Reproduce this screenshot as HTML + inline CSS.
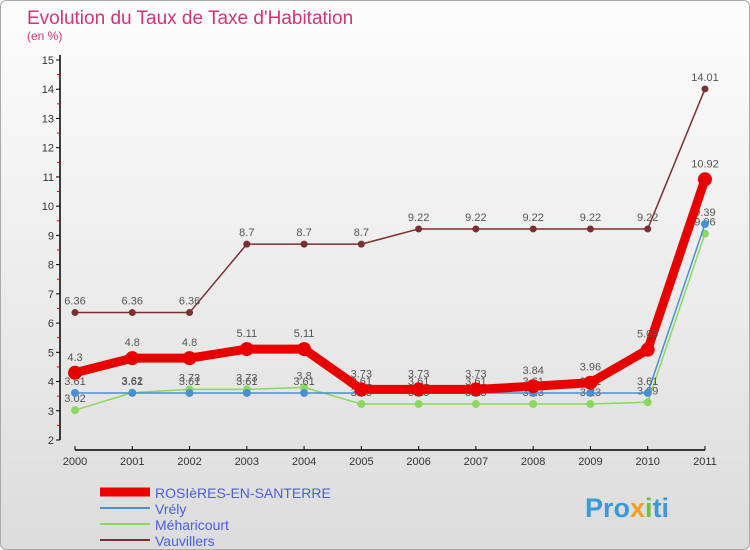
<!DOCTYPE html>
<html><head><meta charset="utf-8"><style>
body{margin:0;width:750px;height:550px;overflow:hidden;font-family:"Liberation Sans",sans-serif}
#wrap{position:absolute;left:0;top:0;width:748px;height:548px;border:1px solid #aaa;border-radius:6px;background:linear-gradient(#fdfdfd,#dcdcdc);}
</style></head><body>
<div id="wrap"></div>
<svg id="c" width="750" height="550" style="position:absolute;left:0;top:0">
<text x="27" y="24" font-size="19" fill="#d0357a">Evolution du Taux de Taxe d'Habitation</text>
<text x="27" y="40" font-size="12" fill="#d0357a">(en %)</text>
<g id="axes"></g><g id="series"></g>
<g>
<line x1="100" y1="492" x2="150" y2="492" stroke="#e00" stroke-width="9"/>
<text x="155" y="498" font-size="14" fill="#4a5fd8">ROSIèRES-EN-SANTERRE</text>
<line x1="100" y1="508" x2="150" y2="508" stroke="#4a8fd0" stroke-width="2"/>
<text x="155" y="514" font-size="14" fill="#4a5fd8">Vrély</text>
<line x1="100" y1="524" x2="150" y2="524" stroke="#8ad860" stroke-width="2"/>
<text x="155" y="530" font-size="14" fill="#4a5fd8">Méharicourt</text>
<line x1="100" y1="540" x2="150" y2="540" stroke="#7a3030" stroke-width="2"/>
<text x="155" y="546" font-size="14" fill="#4a5fd8">Vauvillers</text>
</g>
<text x="585" y="517" font-size="27" font-weight="bold" fill="#3a9ad8">Pro<tspan fill="#f0a020">x</tspan><tspan fill="#70c040">i</tspan>ti</text>
</svg>
<script>
const years=[2000,2001,2002,2003,2004,2005,2006,2007,2008,2009,2010,2011];
const yTicks=[2,3,4,5,6,7,8,9,10,11,12,13,14,15];
const vauvillers=[6.36,6.36,6.36,8.7,8.7,8.7,9.22,9.22,9.22,9.22,9.22,14.01];
const meharicourt=[3.02,3.62,3.73,3.73,3.8,3.23,3.23,3.23,3.23,3.23,3.29,9.06];
const vrely=[3.61,3.61,3.61,3.61,3.61,3.61,3.61,3.61,3.61,3.61,3.61,9.39];
const rosieres=[4.3,4.8,4.8,5.11,5.11,3.73,3.73,3.73,3.84,3.96,5.09,10.92];
const NS="http://www.w3.org/2000/svg";
const X=i=>75+i*57.27, Y=v=>440-(v-2)*29.23;
function mk(p,t,a){const e=document.createElementNS(NS,t);for(const k in a)e.setAttribute(k,a[k]);p.appendChild(e);return e;}
const ax=document.getElementById('axes'), sg=document.getElementById('series');
let l=mk(ax,'line',{x1:60,y1:55,x2:60,y2:440,stroke:'#000','stroke-width':1.5});


l=mk(ax,'line',{x1:75,y1:450,x2:705,y2:450,stroke:'#000','stroke-width':1.5});


yTicks.forEach(v=>{mk(ax,'line',{x1:56,y1:Y(v),x2:60,y2:Y(v),stroke:'#000'});
 if(v<15)mk(ax,'line',{x1:57,y1:Y(v+0.5),x2:60,y2:Y(v+0.5),stroke:'#e00'});
 const t=mk(ax,'text',{x:54,y:Y(v)+4,'font-size':11,'text-anchor':'end',fill:'#333'});t.textContent=v;
 
 });
years.forEach((y,i)=>{mk(ax,'line',{x1:X(i),y1:446,x2:X(i),y2:450,stroke:'#000'});
 const t=mk(ax,'text',{x:X(i),y:465,'font-size':11,'text-anchor':'middle',fill:'#333'});t.textContent=y;
 
 });
function draw(d,col,w,r,name,off){
 const p=mk(sg,'polyline',{points:d.map((v,i)=>X(i)+','+Y(v)).join(' '),fill:'none',stroke:col,'stroke-width':w,'stroke-linejoin':'round'});
 
 
 d.forEach((v,i)=>{const c=mk(sg,'circle',{cx:X(i),cy:Y(v),r:r,fill:col});
  
  
  const t=mk(sg,'text',{x:X(i),y:Y(v)-off,'font-size':11,'text-anchor':'middle',fill:'#555'});t.textContent=v;
  
  });
}
draw(vauvillers,'#7a3030',1.5,3.5,'vauvillers',8);
draw(meharicourt,'#8ad860',1.5,4,'meharicourt',8);
draw(vrely,'#4a8fd0',1.5,4,'vrely',8);
draw(rosieres,'#e80000',9,7,'rosieres',12);
</script>
</body></html>
